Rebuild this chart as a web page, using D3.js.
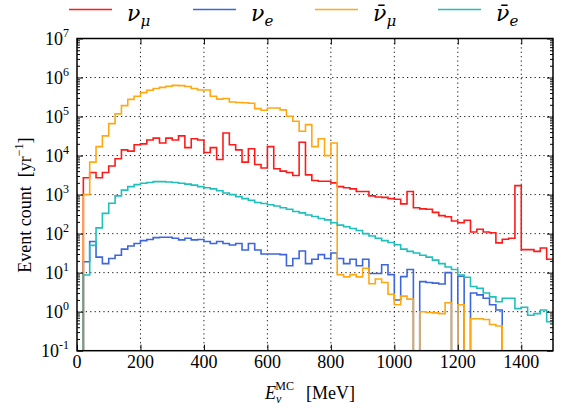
<!DOCTYPE html>
<html><head><meta charset="utf-8">
<script src="https://cdn.jsdelivr.net/npm/d3@7"></script>
<style>
html,body{margin:0;padding:0;background:#fff;}
</style></head>
<body><svg id="c" width="561" height="410" font-family="'Liberation Serif', 'DejaVu Serif', serif"></svg>
<script>
// ---- data (20 MeV bins from 0 to 1500 MeV); 0 = empty bin ----
const binWidth = 20;
const xTickValues = [0, 200, 400, 600, 800, 1000, 1200, 1400];
const yTickExponents = [-1, 0, 1, 2, 3, 4, 5, 6, 7];
const seriesBase = ["ν", "ν", "ν\u0304", "ν\u0304"];
const seriesSub = ["μ", "e", "μ", "e"];
const seriesColors = ["#ff1a1a", "#3d66dd", "#ffa812", "#1fc0bc"];

const numu = [0, 2700, 3700, 2700, 3700, 5400, 8300, 14000, 13000, 19000,
  20000, 25000, 28000, 21000, 28000, 25000, 32000, 16000, 27000, 25000,
  12000, 16000, 7900, 38000, 19000, 14000, 6800, 15000, 5900, 4800,
  17000, 4600, 4000, 3700, 3100, 22000, 3200, 2300, 2200, 2200,
  2000, 1600, 1500, 1400, 1200, 1200, 930, 870, 850, 790,
  760, 580, 1200, 460, 430, 420, 350, 290, 270, 210,
  190, 220, 110, 130, 110, 105, 58, 72, 76, 1700,
  39, 39, 35, 43, 22];
const nue = [0, 19, 63, 25, 17, 23, 28, 40, 48, 56,
  66, 71, 79, 81, 81, 76, 69, 76, 69, 71,
  63, 56, 63, 56, 51, 56, 38, 56, 38, 30,
  30, 30, 29, 15, 23, 36, 17, 22, 29, 23,
  32, 23, 17, 22, 15, 22, 9.5, 9.5, 16, 8.9,
  2.0, 7.9, 12, 0, 5.9, 5.6, 5.4, 5.1, 10, 0,
  8.1, 0, 3.0, 2.7, 2.2, 1.5, 1.1, 0, 0, 0,
  0, 0, 0, 0, 0];
const numubar = [0, 1000, 6800, 17000, 32000, 66000, 117000, 190000, 275000, 330000,
  410000, 470000, 525000, 560000, 600000, 630000, 620000, 590000, 525000, 480000,
  480000, 330000, 280000, 290000, 235000, 230000, 225000, 220000, 160000, 145000,
  165000, 165000, 148000, 102000, 76000, 42000, 62000, 17000, 27000, 10000,
  21000, 8.9, 7.8, 8.9, 7.8, 13, 5.2, 6.9, 5.6, 2.8,
  1.5, 2.5, 2.1, 0, 1.0, 0.95, 0.93, 0.89, 1.7, 0,
  1.5, 0, 0.66, 0.66, 0.63, 0.47, 0.43, 0, 0, 0,
  0, 0, 0, 0, 0];
const nuebar = [0, 8.7, 50, 140, 330, 600, 930, 1300, 1600, 1800,
  1950, 2050, 2150, 2150, 2100, 2050, 1950, 1850, 1750, 1600,
  1500, 1400, 1250, 1100, 1000, 890, 790, 710, 630, 590,
  550, 510, 460, 420, 370, 340, 300, 275, 245, 225,
  190, 165, 150, 135, 120, 100, 87, 76, 66, 59,
  52, 40, 35, 32, 28, 25, 21, 17, 14, 12,
  8.7, 7.6, 4.4, 4.0, 3.0, 2.4, 1.8, 2.2, 2.2, 1.2,
  1.3, 0.81, 0.89, 1.1, 0.55];

// ---- layout ----
const svg = d3.select("#c");
const L = 77, R = 553, T = 38.5, B = 350.7;
const x = d3.scaleLinear().domain([0, 1500]).range([L, R]);
const y = d3.scaleLog().domain([0.1, 1e7]).range([B, T]);

svg.append("defs").append("clipPath").attr("id", "clip")
  .append("rect").attr("x", L).attr("y", T).attr("width", R - L).attr("height", B - T);

// grid
const grid = svg.append("g").attr("stroke", "#111").attr("stroke-width", 1)
  .attr("stroke-dasharray", "1.2,3.2");
yTickExponents.slice(1, -1).forEach(e => {
  grid.append("line").attr("x1", L).attr("x2", R).attr("y1", y(Math.pow(10, e))).attr("y2", y(Math.pow(10, e)));
});
xTickValues.slice(1).forEach(v => {
  grid.append("line").attr("y1", T).attr("y2", B).attr("x1", x(v)).attr("x2", x(v));
});

// histograms
const allSeries = [numu, nue, numubar, nuebar];
const hist = svg.append("g").attr("clip-path", "url(#clip)");
allSeries.forEach((vals, k) => {
  const pts = [];
  vals.forEach((v, i) => {
    const yy = v > 0 ? y(v) : B + 30;
    pts.push([x(i * binWidth), yy]);
    pts.push([x((i + 1) * binWidth), yy]);
  });
  hist.append("path").attr("d", d3.line()(pts)).attr("fill", "none")
    .attr("stroke", seriesColors[k]).attr("stroke-width", 1.6)
    .attr("stroke-linejoin", "miter");
});

// axes (ticks inward on all sides)
const majorY = yTickExponents.map(e => Math.pow(10, e));
const minorY = [];
for (let e = -1; e < 7; e++) for (let m = 2; m <= 9; m++) minorY.push(m * Math.pow(10, e));
function styleAxis(g) { g.select(".domain").remove(); g.selectAll("line").attr("stroke", "#000").attr("stroke-width", 1); g.selectAll("text").remove(); }
svg.append("g").attr("transform", `translate(${L},0)`).call(d3.axisLeft(y).tickValues(majorY).tickSize(-6)).call(styleAxis);
svg.append("g").attr("transform", `translate(${L},0)`).call(d3.axisLeft(y).tickValues(minorY).tickSize(-3)).call(styleAxis);
svg.append("g").attr("transform", `translate(${R},0)`).call(d3.axisRight(y).tickValues(majorY).tickSize(-6)).call(styleAxis);
svg.append("g").attr("transform", `translate(${R},0)`).call(d3.axisRight(y).tickValues(minorY).tickSize(-3)).call(styleAxis);
svg.append("g").attr("transform", `translate(0,${B})`).call(d3.axisBottom(x).tickValues(xTickValues).tickSize(-6)).call(styleAxis);
svg.append("g").attr("transform", `translate(0,${T})`).call(d3.axisTop(x).tickValues(xTickValues).tickSize(-6)).call(styleAxis);

// frame
svg.append("rect").attr("x", L).attr("y", T).attr("width", R - L).attr("height", B - T)
  .attr("fill", "none").attr("stroke", "#000").attr("stroke-width", 1.5);

// tick labels
xTickValues.forEach(v => {
  svg.append("text").attr("x", x(v)).attr("y", 367.5).attr("text-anchor", "middle")
    .attr("font-size", 18).text(v);
});
yTickExponents.forEach(e => {
  const t = svg.append("text").attr("x", 69).attr("y", y(Math.pow(10, e)) + 6)
    .attr("text-anchor", "end").attr("font-size", 18);
  t.append("tspan").text("10");
  t.append("tspan").attr("font-size", 12).attr("dy", -8).text(e);
});

// axis titles
const xt = svg.append("text").attr("x", 265).attr("y", 399).attr("font-size", 18);
xt.append("tspan").attr("font-style", "italic").text("E");
xt.append("tspan").attr("font-size", 12).attr("font-style", "italic").attr("dy", 4).text("ν");
xt.append("tspan").attr("font-size", 12).attr("dx", -6).attr("dy", -13).text("MC");
xt.append("tspan").attr("dy", 9).attr("dx", 12).text("[MeV]");

const yt = svg.append("text").attr("transform", "translate(31,205) rotate(-90)")
  .attr("text-anchor", "middle").attr("font-size", 18);
yt.append("tspan").text("Event count\u00a0\u00a0[yr");
yt.append("tspan").attr("font-size", 12).attr("dy", -8).text("−1");
yt.append("tspan").attr("dy", 8).text("]");

// legend
const legendX = [69, 193, 315, 438];
seriesColors.forEach((col, k) => {
  svg.append("line").attr("x1", legendX[k]).attr("x2", legendX[k] + 43)
    .attr("y1", 9.5).attr("y2", 9.5).attr("stroke", col).attr("stroke-width", 1.5);
  const t = svg.append("text").attr("x", legendX[k] + 58).attr("y", 21).attr("font-size", 22)
    .attr("font-family", "'DejaVu Serif', serif").attr("font-style", "italic");
  t.append("tspan").text(seriesBase[k]);
  t.append("tspan").attr("font-size", 15).attr("dy", 5).text(seriesSub[k]);
});
</script></body></html>
